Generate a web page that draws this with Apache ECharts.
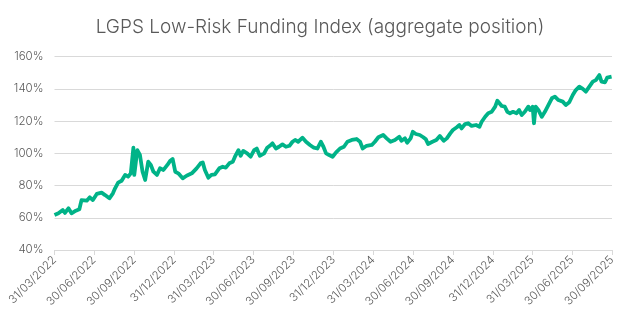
<!DOCTYPE html>
<html>
<head>
<meta charset="utf-8">
<script src="https://cdn.jsdelivr.net/npm/echarts@6/dist/echarts.min.js"></script>
<style>html,body{margin:0;padding:0;background:#fff}#c{width:640px;height:332px}</style>
</head>
<body>
<div id="c"></div>
<script>
const titleText = 'LGPS Low-Risk Funding Index (aggregate position)';
const quarterEnds = ['2022-03-31','2022-06-30','2022-09-30','2022-12-31','2023-03-31','2023-06-30','2023-09-30','2023-12-31','2024-03-31','2024-06-30','2024-09-30','2024-12-31','2025-03-31','2025-06-30','2025-09-30'];
const yTicks = [40, 60, 80, 100, 120, 140, 160];
const dates = [
'2022-03-31','2022-04-09','2022-04-19','2022-04-24','2022-05-02','2022-05-09','2022-05-19','2022-05-27','2022-06-01','2022-06-13','2022-06-20','2022-06-27','2022-07-06','2022-07-17','2022-07-25','2022-08-04','2022-08-12','2022-08-17','2022-08-24','2022-09-01','2022-09-09','2022-09-16','2022-09-22','2022-09-26','2022-09-28','2022-09-30',
'2022-10-07','2022-10-13','2022-10-19','2022-10-25','2022-11-01','2022-11-07','2022-11-13','2022-11-21','2022-11-28','2022-12-06','2022-12-15','2022-12-21','2022-12-27','2023-01-02','2023-01-09','2023-01-19','2023-01-28','2023-02-09','2023-02-20','2023-03-01','2023-03-06','2023-03-11','2023-03-19','2023-03-26','2023-04-03',
'2023-04-07','2023-04-13','2023-04-21','2023-04-28','2023-05-06','2023-05-14','2023-05-19','2023-05-27','2023-06-01','2023-06-07','2023-06-16','2023-06-24','2023-07-02','2023-07-08','2023-07-15','2023-07-25','2023-08-01','2023-08-07','2023-08-13','2023-08-21','2023-08-28','2023-09-05','2023-09-13','2023-09-21','2023-09-28',
'2023-10-04','2023-10-11','2023-10-21','2023-10-29','2023-11-07','2023-11-16','2023-11-24','2023-12-02','2023-12-08','2023-12-14','2023-12-21','2023-12-29','2024-01-06','2024-01-15','2024-01-24','2024-02-01','2024-02-11','2024-02-22','2024-03-01','2024-03-07','2024-03-16','2024-03-28','2024-04-04',
'2024-04-12','2024-04-23','2024-05-01','2024-05-10','2024-05-20','2024-05-30','2024-06-04','2024-06-12','2024-06-17','2024-06-25','2024-06-30','2024-07-07','2024-07-16','2024-07-24','2024-07-30','2024-08-04','2024-08-14','2024-08-23','2024-08-31','2024-09-04','2024-09-09','2024-09-16','2024-09-24','2024-09-30',
'2024-10-09','2024-10-15','2024-10-20','2024-10-28','2024-11-04','2024-11-12','2024-11-22','2024-11-30','2024-12-05','2024-12-13','2024-12-20','2024-12-28','2025-01-05','2025-01-10','2025-01-14','2025-01-20','2025-01-27','2025-02-02','2025-02-08','2025-02-15','2025-02-23','2025-03-01','2025-03-07','2025-03-14','2025-03-22','2025-03-26','2025-04-01','2025-04-04','2025-04-08',
'2025-04-14','2025-04-22','2025-04-29','2025-05-07','2025-05-15','2025-05-22','2025-05-30','2025-06-09','2025-06-16','2025-06-24','2025-07-02','2025-07-09','2025-07-17','2025-07-25','2025-08-01','2025-08-09','2025-08-17','2025-08-24','2025-09-01','2025-09-06','2025-09-14','2025-09-19','2025-09-29'
];
const fundingLevel = [
61.7,62.8,64.8,63.0,65.9,62.8,64.4,65.3,71.0,70.6,72.7,71.0,74.8,75.6,74.1,72.1,75.2,78.3,81.8,83.0,86.6,85.5,87.6,88.0,103.5,86.6,
102.0,99.0,88.6,83.5,94.8,92.8,88.6,86.6,90.7,89.7,92.8,95.2,96.5,88.6,87.6,84.5,86.1,87.6,90.7,93.8,94.4,89.7,84.9,86.6,87.0,
86.6,90.7,91.7,91.1,93.8,94.8,97.9,102.0,98.5,101.5,100.0,97.9,102.0,103.0,98.5,100.0,103.5,104.7,106.2,103.0,104.1,105.6,104.1,104.7,107.2,
108.3,107.2,109.7,107.2,105.2,103.5,103.0,107.2,104.1,100.0,99.0,97.9,100.6,103.0,104.1,107.2,108.3,108.9,107.2,103.0,104.7,105.2,107.2,
110.0,111.4,109.3,107.2,108.3,110.3,107.8,109.3,106.6,109.3,113.4,112.0,111.4,110.0,108.7,105.8,107.2,108.3,110.8,112.0,107.8,109.3,112.4,114.5,
116.2,117.6,115.5,118.2,118.7,117.0,117.6,116.5,119.6,122.7,124.9,125.8,129.0,132.7,132.1,129.4,129.0,125.8,124.9,125.8,124.9,126.9,123.8,125.8,129.0,126.9,129.0,118.7,129.0,
127.0,122.7,125.8,130.0,134.2,135.2,133.1,132.1,130.0,131.7,136.2,139.3,141.4,140.0,138.3,141.4,144.5,145.5,148.6,144.5,144.1,147.0,147.6
];

function ts(s){const p=s.split('-').map(Number);return Date.UTC(p[0],p[1]-1,p[2]);}
function pad(n){return (n<10?'0':'')+n;}
const tickVals = quarterEnds.map(ts);
const seriesData = dates.map((d,i)=>[ts(d), fundingLevel[i]]);
const FONT = 'Inter';

const chart = echarts.init(document.getElementById('c'), null, {renderer:'canvas'});
chart.setOption({
  animation:false,
  backgroundColor:'#ffffff',
  title:{text:titleText,left:'center',top:13,textStyle:{fontFamily:FONT,fontWeight:300,fontSize:19,color:'#595959'}},
  grid:{left:54.5,right:28,top:56.7,bottom:82},
  xAxis:{
    type:'value',min:tickVals[0],max:tickVals[tickVals.length-1],scale:true,
    axisLine:{show:true,lineStyle:{color:'#d9d9d9',width:1}},
    axisTick:{show:true,customValues:tickVals,length:5,lineStyle:{color:'#d9d9d9'}},
    axisLabel:{customValues:tickVals,rotate:45,margin:8,fontFamily:FONT,fontWeight:300,fontSize:11.5,color:'#595959',
      formatter:function(v){const d=new Date(v);return pad(d.getUTCDate())+'/'+pad(d.getUTCMonth()+1)+'/'+d.getUTCFullYear();}},
    splitLine:{show:false}
  },
  yAxis:{
    type:'value',min:yTicks[0],max:yTicks[yTicks.length-1],interval:20,
    axisLine:{show:false},axisTick:{show:false},
    axisLabel:{formatter:'{value}%',fontFamily:FONT,fontWeight:300,fontSize:11.5,color:'#595959',margin:11},
    splitLine:{lineStyle:{color:'#d9d9d9',width:1}}
  },
  series:[{type:'line',data:seriesData,showSymbol:false,symbol:'none',lineStyle:{color:'#00b388',width:3.8,join:'round'},itemStyle:{color:'#00b388'}}]
});
</script>
</body>
</html>
